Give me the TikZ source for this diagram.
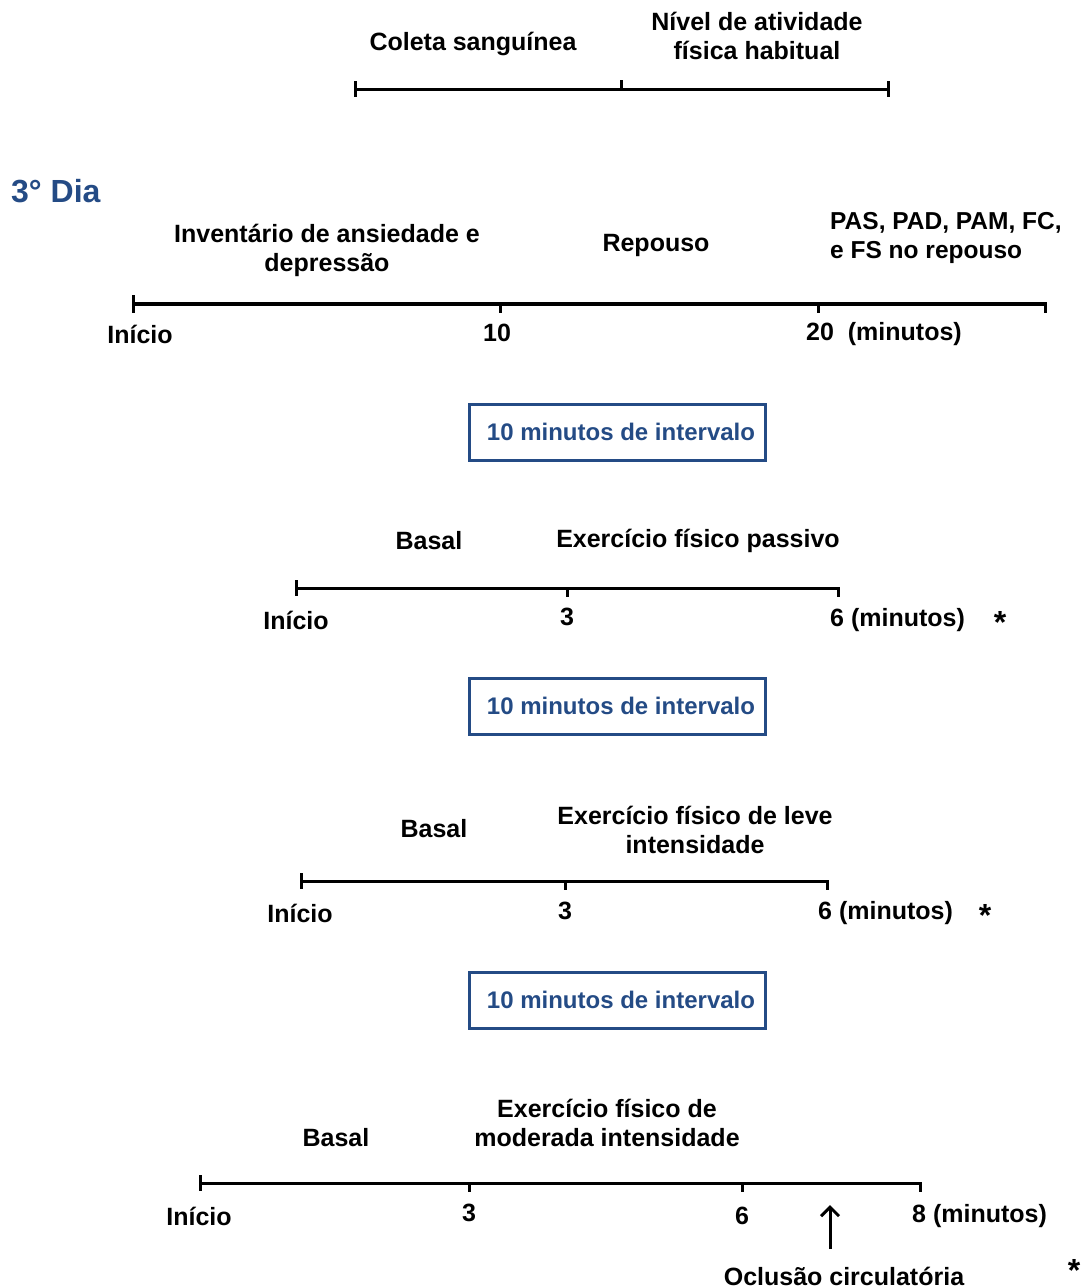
\documentclass[tikz,border=0pt]{standalone}
\usepackage{fontspec}
\setmainfont{Liberation Sans}
\usetikzlibrary{arrows.meta}
\definecolor{dblue}{RGB}{36,75,133}
\tikzset{
  lbl/.style={font=\fontsize{25}{29}\selectfont\bfseries, inner sep=0pt, align=center},
  lblL/.style={lbl, align=left, anchor=west},
  starlbl/.style={font=\fontsize{32}{36}\selectfont\bfseries, inner sep=0pt},
  tl/.style={line width=3pt, line cap=rect},
  tlthick/.style={line width=4.5pt},
  tick/.style={line width=3pt},
  ibox/.style={draw=dblue, line width=3pt, text=dblue, font=\fontsize{24}{29}\selectfont\bfseries, minimum width=296pt, minimum height=56pt, inner sep=0pt},
  arr/.style={line width=3pt, -{Straight Barb[length=9pt,width=18pt,line width=3pt]}}
}
\begin{document}
\begin{tikzpicture}[x=1pt,y=-1pt]
\useasboundingbox (0,0) rectangle (1086,1288);
% ---------- top timeline ----------
\coordinate (a0) at (355,89);
\coordinate (a1) at (621,89);
\coordinate (a2) at (888,89);
\draw[line width=3pt] (a0) -- (a2);
\draw[tick] ([yshift=8pt]a0) -- ([yshift=-8pt]a0);
\draw[tick] (a1) -- ([yshift=9pt]a1);
\draw[tick] ([yshift=8pt]a2) -- ([yshift=-8pt]a2);
\node[lbl] (coleta) at (473,44) {Coleta sanguínea};
\node[lbl] (nivel) at (757,36) {Nível de atividade\\física habitual};
% ---------- 3° Dia ----------
\node[font=\fontsize{32}{38}\selectfont\bfseries, text=dblue, inner sep=0pt, anchor=west] (dia) at (11,191) {3° Dia};
% ---------- timeline 2 ----------
\coordinate (b0) at (133,304);
\coordinate (b1) at (500,304);
\coordinate (b2) at (818,304);
\coordinate (b3) at (1045,304);
\draw[tlthick] (b0) -- (b3);
\draw[tick] ([yshift=9pt]b0) -- ([yshift=-9pt]b0);
\draw[tick] (b1) -- ([yshift=-9pt]b1);
\draw[tick] (b2) -- ([yshift=-9pt]b2);
\draw[tick] ([yshift=2pt]b3) -- ([yshift=-9pt]b3);
\node[lbl] (inv) at (327,250) {Inventário de ansiedade e\\depressão};
\node[lbl] (rep) at (656,245) {Repouso};
\node[lblL, font=\fontsize{24.5}{29}\selectfont\bfseries] (pas) at (830,238) {PAS, PAD, PAM, FC,\\e FS no repouso};
\node[lbl] (b0l) at (140,334) {Início};
\node[lbl] (b1l) at (497,333) {10};
\node[lblL] (b2l) at (806,334) {20\ \ (minutos)};
% ---------- box 1 ----------
\node[ibox] (box1) at (617,432) {\hspace*{8pt}10 minutos de intervalo};
% ---------- timeline 3 ----------
\coordinate (c0) at (296,588);
\coordinate (c1) at (567,588);
\coordinate (c2) at (838,588);
\draw[tl] (c0) -- (c2);
\draw[tick] ([yshift=8pt]c0) -- ([yshift=-8pt]c0);
\draw[tick] (c1) -- ([yshift=-9pt]c1);
\draw[tick] (c2) -- ([yshift=-9pt]c2);
\node[lbl] (basal1) at (429,541) {Basal};
\node[lbl] (ex1) at (698,541) {Exercício físico passivo};
\node[lbl] (c0l) at (296,620) {Início};
\node[lbl] (c1l) at (567,617) {3};
\node[lblL] (c2l) at (830,620) {6 (minutos)};
\node[starlbl] (star1) at (1000,622) {*};
% ---------- box 2 ----------
\node[ibox] (box2) at (617,706) {\hspace*{8pt}10 minutos de intervalo};
% ---------- timeline 4 ----------
\coordinate (d0) at (301,881);
\coordinate (d1) at (565,881);
\coordinate (d2) at (827,881);
\draw[tl] (d0) -- (d2);
\draw[tick] ([yshift=8pt]d0) -- ([yshift=-8pt]d0);
\draw[tick] (d1) -- ([yshift=-9pt]d1);
\draw[tick] (d2) -- ([yshift=-9pt]d2);
\node[lbl] (basal2) at (434,829) {Basal};
\node[lbl] (ex2) at (695,830) {Exercício físico de leve\\intensidade};
\node[lbl] (d0l) at (300,913) {Início};
\node[lbl] (d1l) at (565,911) {3};
\node[lblL] (d2l) at (818,913) {6 (minutos)};
\node[starlbl] (star2) at (985,915) {*};
% ---------- box 3 ----------
\node[ibox] (box3) at (617,1000) {\hspace*{8pt}10 minutos de intervalo};
% ---------- timeline 5 ----------
\coordinate (e0) at (200,1183);
\coordinate (e1) at (469,1183);
\coordinate (e2) at (742,1183);
\coordinate (e3) at (920,1183);
\draw[tl] (e0) -- (e3);
\draw[tick] ([yshift=8pt]e0) -- ([yshift=-8pt]e0);
\draw[tick] (e1) -- ([yshift=-9pt]e1);
\draw[tick] (e2) -- ([yshift=-9pt]e2);
\draw[tick] (e3) -- ([yshift=-9pt]e3);
\node[lbl] (basal3) at (336,1138) {Basal};
\node[lbl] (ex3) at (607,1123) {Exercício físico de\\moderada intensidade};
\node[lbl] (e0l) at (199,1216) {Início};
\node[lbl] (e1l) at (469,1213) {3};
\node[lbl] (e2l) at (742,1216) {6};
\node[lblL] (e3l) at (912,1216) {8 (minutos)};
\node[lbl] (ocl) at (844,1276) {Oclusão circulatória};
\coordinate (arrtip) at (830,1205);
\coordinate (abase) at (830,1249);
\draw[arr] (abase) -- (arrtip);
\node[starlbl] (star3) at (1074,1270) {*};
\end{tikzpicture}
\end{document}
